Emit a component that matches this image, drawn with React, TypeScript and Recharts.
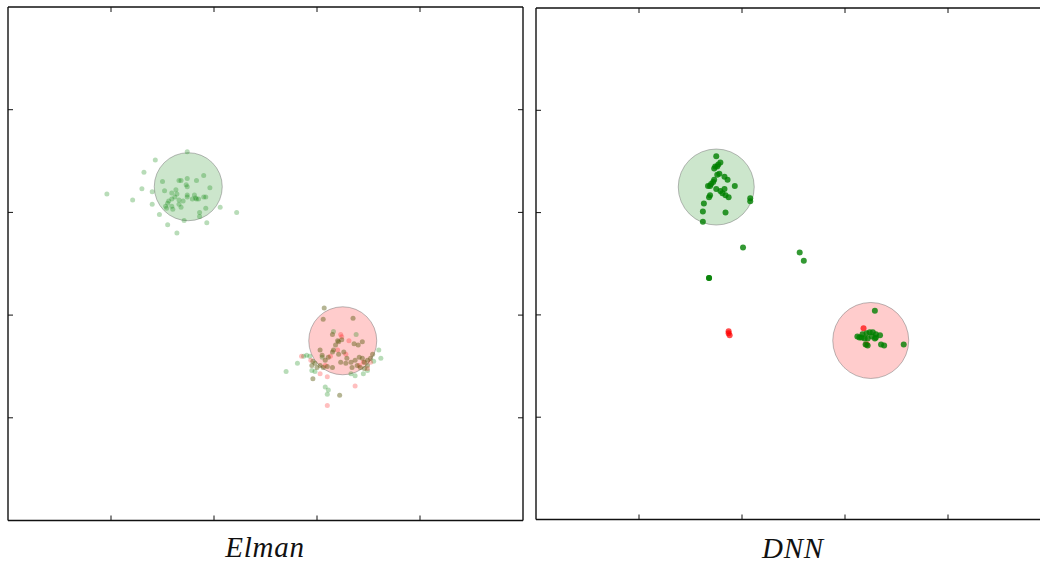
import { ScatterChart, Scatter, XAxis, YAxis, ReferenceDot } from "recharts"

// axis range shared by both panels (tick labels are hidden in the original)
const axisDomain = [0, 5]
const axisTicks = [1, 2, 3, 4]

// Elman panel
const elmanGreen = [
  { x: 1.74, y: 3.59 }, { x: 1.43, y: 3.51 }, { x: 1.32, y: 3.39 }, { x: 1.3, y: 3.23 },
  { x: 0.96, y: 3.18 }, { x: 1.21, y: 3.12 }, { x: 1.4, y: 3.2 }, { x: 1.4, y: 3.08 },
  { x: 1.47, y: 2.98 }, { x: 1.55, y: 2.88 }, { x: 1.64, y: 2.8 }, { x: 1.71, y: 2.92 },
  { x: 1.93, y: 2.9 }, { x: 1.86, y: 3.0 }, { x: 1.86, y: 2.96 }, { x: 1.92, y: 3.04 },
  { x: 2.06, y: 3.05 }, { x: 2.22, y: 3.0 }, { x: 1.96, y: 3.24 }, { x: 1.9, y: 3.36 },
  { x: 1.83, y: 3.31 }, { x: 1.74, y: 3.33 }, { x: 1.66, y: 3.31 }, { x: 1.68, y: 3.31 },
  { x: 1.73, y: 3.27 }, { x: 1.74, y: 3.25 }, { x: 1.5, y: 3.3 }, { x: 1.52, y: 3.21 },
  { x: 1.59, y: 3.19 }, { x: 1.63, y: 3.22 }, { x: 1.64, y: 3.18 }, { x: 1.66, y: 3.12 },
  { x: 1.62, y: 3.15 }, { x: 1.59, y: 3.13 }, { x: 1.74, y: 3.15 }, { x: 1.74, y: 3.17 },
  { x: 1.81, y: 3.17 }, { x: 1.82, y: 3.14 }, { x: 1.83, y: 3.13 }, { x: 1.85, y: 3.13 },
  { x: 1.79, y: 3.13 }, { x: 1.9, y: 3.15 }, { x: 1.92, y: 3.15 }, { x: 1.7, y: 3.11 },
  { x: 1.55, y: 3.09 }, { x: 1.56, y: 3.11 }, { x: 1.59, y: 3.06 }, { x: 1.6, y: 3.03 },
  { x: 1.66, y: 3.08 }, { x: 1.68, y: 3.05 }, { x: 1.53, y: 3.06 }, { x: 1.54, y: 3.04 },
  // green points that landed in the red class region
  { x: 2.87, y: 1.6 }, { x: 2.9, y: 1.61 }, { x: 2.93, y: 1.6 }, { x: 2.81, y: 1.53 },
  { x: 2.7, y: 1.45 }, { x: 3.08, y: 1.3 }, { x: 3.11, y: 1.27 }, { x: 3.1, y: 1.23 },
  { x: 3.6, y: 1.66 }, { x: 3.62, y: 1.58 }, { x: 3.55, y: 1.55 }, { x: 2.95, y: 1.46 },
  { x: 2.98, y: 1.45 }, { x: 3.33, y: 1.43 }, { x: 3.37, y: 1.41 }, { x: 3.45, y: 1.43 },
  { x: 3.49, y: 1.46 }, { x: 3.05, y: 1.59 }, { x: 3.16, y: 1.84 }, { x: 3.38, y: 1.81 },
]

const elmanRed = [
  { x: 2.85, y: 1.6 }, { x: 3.23, y: 1.81 }, { x: 3.24, y: 1.79 }, { x: 3.1, y: 1.4 },
  { x: 3.37, y: 1.31 }, { x: 3.1, y: 1.12 }, { x: 3.03, y: 1.43 }, { x: 3.28, y: 1.62 },
  { x: 3.2, y: 1.66 }, { x: 3.41, y: 1.51 }, { x: 3.45, y: 1.54 }, { x: 3.13, y: 1.6 },
  { x: 3.31, y: 1.75 }, { x: 3.49, y: 1.48 }, { x: 2.94, y: 1.56 }, { x: 3.08, y: 1.51 },
  { x: 3.52, y: 1.54 },
]

// overlapping red/green points, drawn darker
const elmanMixed = [
  { x: 3.07, y: 2.07 }, { x: 3.06, y: 1.96 }, { x: 3.35, y: 1.97 }, { x: 3.15, y: 1.81 },
  { x: 3.2, y: 1.75 }, { x: 3.21, y: 1.74 }, { x: 3.24, y: 1.76 }, { x: 3.36, y: 1.72 },
  { x: 3.4, y: 1.71 }, { x: 3.44, y: 1.74 }, { x: 3.18, y: 1.71 }, { x: 3.16, y: 1.66 },
  { x: 3.21, y: 1.62 }, { x: 3.26, y: 1.64 }, { x: 3.03, y: 1.66 }, { x: 3.05, y: 1.61 },
  { x: 3.08, y: 1.56 }, { x: 3.11, y: 1.59 }, { x: 3.15, y: 1.64 }, { x: 2.96, y: 1.55 },
  { x: 2.98, y: 1.53 }, { x: 2.95, y: 1.51 }, { x: 3.0, y: 1.49 }, { x: 3.03, y: 1.51 },
  { x: 3.06, y: 1.49 }, { x: 3.1, y: 1.5 }, { x: 3.15, y: 1.49 }, { x: 2.96, y: 1.38 },
  { x: 3.22, y: 1.22 }, { x: 3.29, y: 1.58 }, { x: 3.33, y: 1.54 }, { x: 3.37, y: 1.56 },
  { x: 3.41, y: 1.59 }, { x: 3.44, y: 1.58 }, { x: 3.46, y: 1.54 }, { x: 3.49, y: 1.56 },
  { x: 3.52, y: 1.58 }, { x: 3.54, y: 1.62 }, { x: 3.34, y: 1.49 }, { x: 3.39, y: 1.51 },
  { x: 3.42, y: 1.49 }, { x: 3.46, y: 1.48 }, { x: 3.49, y: 1.51 }, { x: 3.28, y: 1.53 },
  { x: 3.23, y: 1.54 },
]

// DNN panel
const dnnGreen = [
  { x: 1.75, y: 3.55 }, { x: 1.77, y: 3.47 }, { x: 1.79, y: 3.49 }, { x: 1.74, y: 3.45 },
  { x: 1.76, y: 3.45 }, { x: 1.73, y: 3.43 }, { x: 1.78, y: 3.38 }, { x: 1.76, y: 3.37 },
  { x: 1.83, y: 3.35 }, { x: 1.86, y: 3.32 }, { x: 1.73, y: 3.32 }, { x: 1.72, y: 3.3 },
  { x: 1.7, y: 3.28 }, { x: 1.69, y: 3.26 }, { x: 1.67, y: 3.26 }, { x: 1.93, y: 3.26 },
  { x: 1.75, y: 3.23 }, { x: 1.79, y: 3.21 }, { x: 1.83, y: 3.23 }, { x: 1.81, y: 3.19 },
  { x: 1.84, y: 3.17 }, { x: 1.87, y: 3.15 }, { x: 1.69, y: 3.17 }, { x: 1.68, y: 3.15 },
  { x: 1.63, y: 3.09 }, { x: 1.62, y: 3.01 }, { x: 1.84, y: 3.0 }, { x: 1.62, y: 2.91 },
  { x: 2.08, y: 3.14 }, { x: 2.08, y: 3.11 },
  { x: 2.01, y: 2.66 }, { x: 2.56, y: 2.61 }, { x: 2.6, y: 2.53 }, { x: 1.68, y: 2.36 },
  { x: 1.68, y: 2.36 },
  { x: 3.29, y: 2.04 }, { x: 3.12, y: 1.79 }, { x: 3.14, y: 1.78 }, { x: 3.17, y: 1.81 },
  { x: 3.21, y: 1.82 }, { x: 3.24, y: 1.83 }, { x: 3.27, y: 1.83 }, { x: 3.3, y: 1.81 },
  { x: 3.34, y: 1.8 }, { x: 3.3, y: 1.78 }, { x: 3.26, y: 1.79 }, { x: 3.22, y: 1.77 },
  { x: 3.19, y: 1.77 }, { x: 3.16, y: 1.78 }, { x: 3.29, y: 1.77 }, { x: 3.2, y: 1.71 },
  { x: 3.22, y: 1.7 }, { x: 3.35, y: 1.71 }, { x: 3.38, y: 1.7 }, { x: 3.57, y: 1.71 },
]

const dnnRed = [
  { x: 1.87, y: 1.84 }, { x: 1.87, y: 1.82 }, { x: 1.88, y: 1.8 }, { x: 3.18, y: 1.87 },
  { x: 3.21, y: 1.71 },
]

// class regions: [x, y] centres
const greenCentre = [1.75, 3.25]
const redCentre = [3.25, 1.75]

const dot = (r: number, fill: string, opacity: number) => (props: any) =>
  <circle cx={props.cx} cy={props.cy} r={r} fill={fill} fillOpacity={opacity} />

const noLabel = () => ""

interface PanelProps {
  left: number
  top: number
  marginTop: number
  marginBottom: number
  title: string
  regionRadius: number
  series: { data: { x: number; y: number }[]; r: number; fill: string; opacity: number }[]
}

function Panel({ left, top, marginTop, marginBottom, title, regionRadius, series }: PanelProps) {
  const axisLine = { stroke: "#111", strokeWidth: 1.4 }
  const tickLine = { stroke: "#111", strokeWidth: 1 }
  // axes need a size of at least 1px or recharts skips drawing them
  const common = {
    type: "number" as const,
    domain: axisDomain,
    ticks: axisTicks,
    allowDataOverflow: true,
    mirror: true,
    tickFormatter: noLabel,
    tickSize: 5,
    axisLine,
    tickLine,
  }
  return (
    <div style={{ position: "absolute", left, top, width: 530, height: 565 }}>
      <ScatterChart
        width={530}
        height={565}
        margin={{ top: marginTop, right: 7, bottom: marginBottom, left: 8 }}
      >
        <XAxis {...common} xAxisId="b" dataKey="x" orientation="bottom" height={1} />
        <XAxis {...common} xAxisId="t" dataKey="x" orientation="top" height={1} />
        <YAxis {...common} yAxisId="l" dataKey="y" orientation="left" width={1} />
        <YAxis {...common} yAxisId="r" dataKey="y" orientation="right" width={1} />
        <ReferenceDot
          xAxisId="b" yAxisId="l" x={greenCentre[0]} y={greenCentre[1]} r={regionRadius}
          fill="#008000" fillOpacity={0.2} stroke="#666" strokeOpacity={0.45} strokeWidth={1}
        />
        <ReferenceDot
          xAxisId="b" yAxisId="l" x={redCentre[0]} y={redCentre[1]} r={regionRadius}
          fill="#ff0000" fillOpacity={0.2} stroke="#666" strokeOpacity={0.45} strokeWidth={1}
        />
        {series.map((s, i) => (
          <Scatter
            key={i}
            xAxisId="b"
            yAxisId="l"
            data={s.data}
            shape={dot(s.r, s.fill, s.opacity)}
            isAnimationActive={false}
          />
        ))}
      </ScatterChart>
      <div
        style={{
          position: "absolute",
          left: 8,
          width: 514,
          top: 530,
          textAlign: "center",
          fontFamily: "'Liberation Serif', serif",
          fontStyle: "italic",
          fontSize: 29,
          letterSpacing: 0.8,
          color: "#111",
        }}
      >
        {title}
      </div>
    </div>
  )
}

export default function App() {
  return (
    <div style={{ position: "fixed", left: 0, top: 0, width: 1040, height: 565, overflow: "hidden", background: "#fff" }}>
      <Panel
        left={0}
        top={0.5}
        marginTop={6}
        marginBottom={45.5}
        title="Elman"
        regionRadius={34}
        series={[
          { data: elmanGreen, r: 2.5, fill: "#008000", opacity: 0.28 },
          { data: elmanRed, r: 2.5, fill: "#ff0000", opacity: 0.25 },
          { data: elmanMixed, r: 2.5, fill: "#5a5a10", opacity: 0.45 },
        ]}
      />
      <Panel
        left={528}
        top={1.5}
        marginTop={6}
        marginBottom={47.5}
        title="DNN"
        regionRadius={38}
        series={[
          { data: dnnRed, r: 3, fill: "#ff0000", opacity: 0.7 },
          { data: dnnGreen, r: 3, fill: "#008000", opacity: 0.8 },
        ]}
      />
    </div>
  )
}
